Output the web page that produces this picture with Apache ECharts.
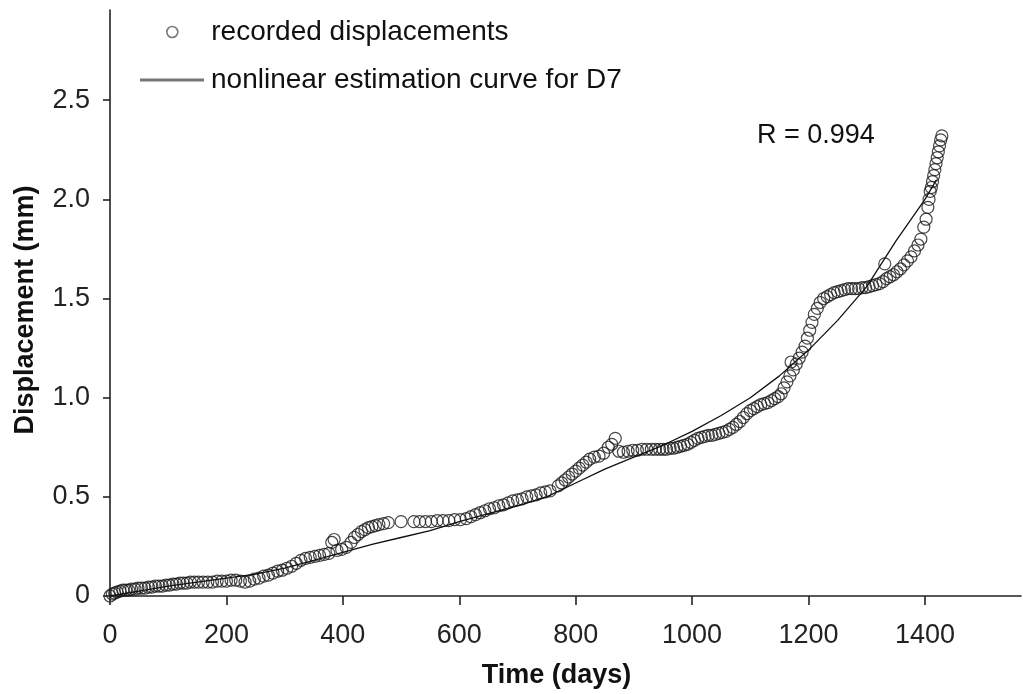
<!DOCTYPE html>
<html>
<head>
<meta charset="utf-8">
<script src="https://cdn.jsdelivr.net/npm/echarts@6/dist/echarts.min.js"></script>
<style>
html,body{margin:0;padding:0;background:#fff;}
#chart{width:1023px;height:694px;}
</style>
</head>
<body>
<div id="chart"></div>
<script>
// Tick labels
const xTicks = [0, 200, 400, 600, 800, 1000, 1200, 1400];
const yTicks = [0, 0.5, 1.0, 1.5, 2.0, 2.5];

// Recorded displacements (days, mm)
const obsDays = [0,4,8,12,17,22,27,32,37,43,48,54,60,66,72,78,84,90,96,102,108,114,120,126,132,138,145,152,160,168,176,184,192,200,208,216,224,232,240,248,256,264,272,280,288,296,304,312,320,328,336,344,352,360,368,376,381,385,390,398,406,414,420,426,432,438,444,450,456,462,470,478,500,522,532,542,552,562,572,582,592,602,612,620,628,636,644,652,660,668,676,684,692,700,708,716,724,732,740,748,756,770,776,782,788,794,800,806,812,818,824,832,840,848,856,862,868,874,882,890,898,906,914,922,930,937,944,950,956,962,968,974,980,986,992,998,1004,1010,1016,1022,1028,1034,1040,1046,1052,1058,1064,1070,1076,1082,1088,1094,1100,1106,1112,1118,1124,1130,1136,1142,1148,1153,1158,1163,1168,1170,1174,1179,1184,1189,1194,1198,1202,1206,1210,1215,1220,1226,1232,1238,1244,1250,1256,1262,1268,1274,1280,1286,1292,1298,1304,1310,1316,1322,1328,1331,1334,1340,1346,1352,1358,1364,1370,1376,1382,1388,1393,1398,1402,1405,1407,1409,1411,1413,1415,1417,1419,1421,1423,1425,1427,1429];
const obsDisp = [0.00,0.01,0.015,0.02,0.025,0.03,0.03,0.03,0.035,0.035,0.04,0.04,0.04,0.045,0.045,0.05,0.05,0.05,0.055,0.055,0.06,0.06,0.065,0.065,0.065,0.07,0.07,0.07,0.07,0.07,0.07,0.075,0.075,0.075,0.08,0.08,0.075,0.07,0.075,0.085,0.09,0.10,0.105,0.115,0.125,0.13,0.14,0.15,0.165,0.18,0.19,0.195,0.20,0.205,0.21,0.215,0.27,0.285,0.23,0.235,0.245,0.27,0.295,0.31,0.325,0.335,0.345,0.35,0.355,0.36,0.365,0.37,0.375,0.375,0.375,0.375,0.375,0.38,0.38,0.38,0.385,0.385,0.39,0.40,0.41,0.42,0.43,0.44,0.445,0.455,0.46,0.47,0.48,0.485,0.49,0.50,0.505,0.51,0.52,0.525,0.53,0.555,0.57,0.585,0.60,0.615,0.63,0.645,0.66,0.675,0.69,0.70,0.705,0.72,0.75,0.765,0.795,0.73,0.725,0.73,0.735,0.735,0.74,0.74,0.74,0.74,0.74,0.74,0.74,0.745,0.745,0.75,0.755,0.76,0.765,0.775,0.785,0.795,0.80,0.805,0.81,0.81,0.815,0.82,0.825,0.83,0.84,0.85,0.865,0.88,0.90,0.92,0.935,0.945,0.955,0.965,0.97,0.975,0.985,0.995,1.005,1.02,1.05,1.08,1.11,1.18,1.14,1.17,1.20,1.23,1.26,1.30,1.34,1.38,1.42,1.45,1.48,1.50,1.51,1.52,1.53,1.535,1.54,1.545,1.55,1.55,1.55,1.55,1.555,1.555,1.56,1.565,1.57,1.575,1.585,1.675,1.60,1.61,1.62,1.635,1.65,1.67,1.69,1.71,1.74,1.77,1.80,1.86,1.90,1.96,2.00,2.04,2.06,2.09,2.12,2.15,2.18,2.21,2.24,2.27,2.30,2.32];

// Nonlinear estimation curve for D7 (days, mm)
const curveDays = [0,50,100,150,200,250,300,350,400,450,500,550,600,650,700,750,800,850,900,950,1000,1050,1100,1150,1200,1250,1300,1350,1400,1420];
const curveDisp = [0.00,0.025,0.05,0.07,0.09,0.11,0.14,0.18,0.22,0.26,0.295,0.33,0.375,0.415,0.455,0.50,0.57,0.64,0.70,0.76,0.83,0.91,1.00,1.11,1.24,1.39,1.56,1.79,2.00,2.10];

const seriesNames = ['recorded displacements', 'nonlinear estimation curve for D7'];
const annotation = 'R = 0.994';

const FONT = '"Liberation Sans", Arial, Helvetica, sans-serif';
const AX = '#222';

const chart = echarts.init(document.getElementById('chart'), null, {renderer: 'canvas'});
chart.setOption({
  animation: false,
  backgroundColor: '#fff',
  textStyle: {fontFamily: FONT},
  grid: {left: 110, right: 2, top: 10, bottom: 96, containLabel: false},
  legend: [
    {
      data: [seriesNames[0]],
      left: 166, top: 18, padding: 0,
      itemWidth: 12, itemHeight: 11,
      itemStyle: {color: '#fff', borderColor: '#555', borderWidth: 1.6},
      textStyle: {fontSize: 28, color: '#111', fontFamily: FONT, padding: [0, 0, 0, 28]}
    },
    {
      data: [seriesNames[1]],
      left: 140, top: 66, padding: 0,
      icon: 'path://M0,0h64v3h-64z',
      itemWidth: 64, itemHeight: 3,
      itemStyle: {color: '#777', borderWidth: 0},
      textStyle: {fontSize: 28, color: '#111', fontFamily: FONT, padding: [0, 0, 0, 2]}
    }
  ],
  xAxis: {
    type: 'value', min: 0, max: 1565,
    name: 'Time (days)', nameLocation: 'middle', nameGap: 66,
    nameTextStyle: {fontSize: 27, fontWeight: 'bold', color: '#111', fontFamily: FONT, padding: [0, 18, 0, 0]},
    axisLine: {show: true, onZero: false, lineStyle: {color: AX, width: 1.6}},
    axisTick: {show: true, inside: false, length: 9, customValues: xTicks, lineStyle: {color: AX, width: 1.6}},
    axisLabel: {customValues: xTicks, fontSize: 27, color: '#222', margin: 26, fontFamily: FONT,
      formatter: v => String(v)},
    splitLine: {show: false}
  },
  yAxis: {
    type: 'value', min: 0, max: 2.955,
    name: 'Displacement (mm)', nameLocation: 'middle', nameGap: 71,
    nameTextStyle: {fontSize: 27, fontWeight: 'bold', color: '#111', fontFamily: FONT, padding: [0, 14, 0, 0]},
    axisLine: {show: true, onZero: false, lineStyle: {color: AX, width: 1.6}},
    axisTick: {show: true, inside: false, length: 7, customValues: yTicks, lineStyle: {color: AX, width: 1.6}},
    axisLabel: {customValues: yTicks, fontSize: 27, color: '#222', margin: 20, fontFamily: FONT,
      formatter: v => (v === 0 ? '0' : v.toFixed(1))},
    splitLine: {show: false}
  },
  graphic: [
    {type: 'text', left: 757, top: 122,
     style: {text: annotation, fontSize: 27, fontFamily: FONT, fill: '#111'}}
  ],
  series: [
    {
      name: seriesNames[0], type: 'scatter',
      data: obsDays.map((d, i) => [d, obsDisp[i]]),
      symbol: 'circle', symbolSize: 12,
      itemStyle: {color: 'rgba(0,0,0,0)', borderColor: '#1a1a1a', borderWidth: 1.2},
      z: 2
    },
    {
      name: seriesNames[1], type: 'line',
      data: curveDays.map((d, i) => [d, curveDisp[i]]),
      symbol: 'none', showSymbol: false, smooth: false,
      lineStyle: {color: '#111', width: 1.3},
      z: 3
    }
  ]
});
</script>
</body>
</html>
